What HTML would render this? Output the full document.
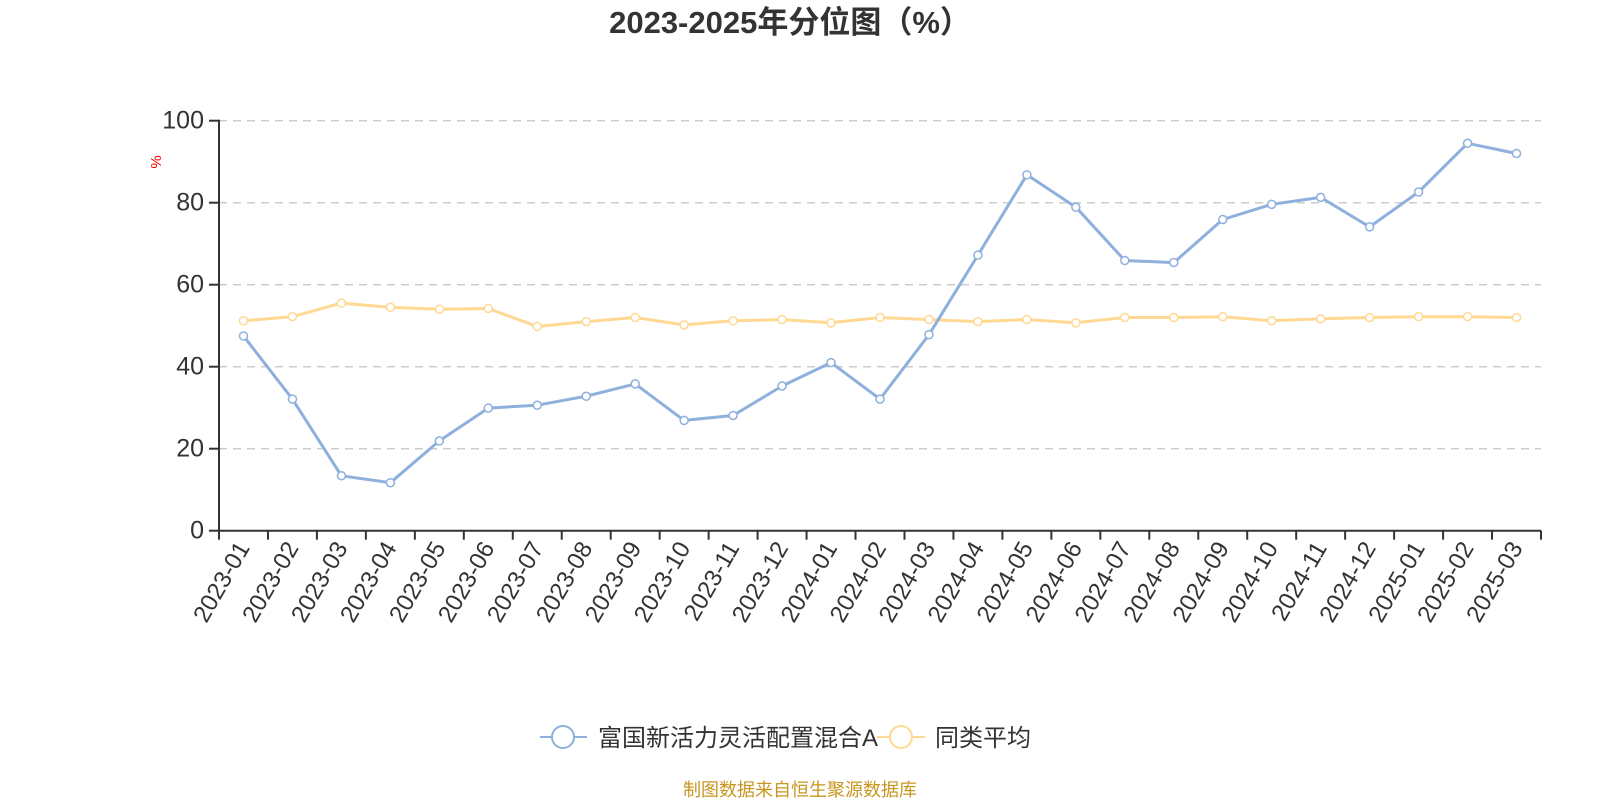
<!DOCTYPE html>
<html><head><meta charset="utf-8"><style>
html,body{margin:0;padding:0;background:#fff;width:1600px;height:800px;overflow:hidden}
svg{display:block;font-family:"Liberation Sans","Noto Sans CJK SC",sans-serif}
</style></head><body>
<svg id="chart" width="1600" height="800" viewBox="0 0 1600 800" xmlns="http://www.w3.org/2000/svg">
<text x="790" y="33" text-anchor="middle" font-size="31" font-weight="bold" fill="#333">2023-2025年分位图（%）</text>
<text transform="translate(161,162) rotate(-90)" text-anchor="middle" font-size="15" fill="#ff0000">%</text>
<g id="grid"></g>
<g id="axes"></g>
<g id="series"></g>
<g>
  <g>
    <line x1="540" y1="737" x2="587" y2="737" stroke="#8eb0dc" stroke-width="2"/>
    <circle cx="563" cy="737" r="11" fill="#fff" stroke="#8eb0dc" stroke-width="2"/>
    <text x="598" y="746" font-size="24" fill="#333">富国新活力灵活配置混合A</text>
  </g>
  <g>
    <line x1="877" y1="737" x2="925" y2="737" stroke="#ffd993" stroke-width="2"/>
    <circle cx="901" cy="737" r="11" fill="#fff" stroke="#ffd993" stroke-width="2"/>
    <text x="935" y="746" font-size="24" fill="#333">同类平均</text>
  </g>
</g>
<text x="800" y="796" text-anchor="middle" font-size="18" fill="#c8961e">制图数据来自恒生聚源数据库</text>
</svg>
<script>
const categories = ["2023-01","2023-02","2023-03","2023-04","2023-05","2023-06","2023-07","2023-08","2023-09","2023-10","2023-11","2023-12","2024-01","2024-02","2024-03","2024-04","2024-05","2024-06","2024-07","2024-08","2024-09","2024-10","2024-11","2024-12","2025-01","2025-02","2025-03"];
const fundValues = [47.5,32.1,13.4,11.7,21.9,29.9,30.6,32.8,35.8,26.9,28.1,35.3,41.0,32.1,47.8,67.2,86.8,78.9,65.9,65.4,75.9,79.6,81.3,74.1,82.6,94.5,92.0];
const avgValues = [51.2,52.2,55.5,54.5,54.0,54.2,49.8,51.0,52.0,50.2,51.2,51.5,50.7,52.0,51.5,51.0,51.5,50.7,52.0,52.0,52.2,51.2,51.7,52.0,52.2,52.2,52.0];
const yTicks = [0,20,40,60,80,100];

const NS = "http://www.w3.org/2000/svg";
const x0 = 219, x1 = 1541, yBase = 530.7, yTop = 120.7;
const band = (x1 - x0) / categories.length;
function xPos(i){ return x0 + band * (i + 0.5); }
function yPos(v){ return yBase - (v / 100) * (yBase - yTop); }
function mk(tag, attrs, parent){
  const el = document.createElementNS(NS, tag);
  for (const k in attrs) el.setAttribute(k, attrs[k]);
  parent.appendChild(el);
  return el;
}
const grid = document.getElementById('grid');
const axes = document.getElementById('axes');
const series = document.getElementById('series');

yTicks.forEach(v => {
  const y = yPos(v);
  if (v > 0) {
    const g = mk('line', {x1: x0, x2: x1, y1: y, y2: y, stroke: '#ccc', 'stroke-width': 1.5, 'stroke-dasharray': '8,6'}, grid);
    
    
  }
  const t = mk('line', {x1: x0 - 10, x2: x0, y1: y, y2: y, stroke: '#333', 'stroke-width': 2}, axes);
  
  
  const lbl = mk('text', {x: x0 - 15, y: y + 8, 'text-anchor': 'end', 'font-size': 25, fill: '#333'}, axes);
  lbl.textContent = v;
  
  
});
const ya = mk('line', {x1: x0, x2: x0, y1: yTop - 1, y2: yBase, stroke: '#333', 'stroke-width': 2}, axes);


const xa = mk('line', {x1: x0 - 1, x2: x1, y1: yBase, y2: yBase, stroke: '#333', 'stroke-width': 2}, axes);


for (let i = 0; i <= categories.length; i++) {
  const x = x0 + band * i;
  const t = mk('line', {x1: x, x2: x, y1: yBase, y2: yBase + 9, stroke: '#333', 'stroke-width': 2}, axes);
  
  
}
categories.forEach((c, i) => {
  const x = xPos(i), y = yBase + 13;
  const lbl = mk('text', {x: x, y: y, 'text-anchor': 'end', 'font-size': 24, fill: '#333', transform: `rotate(-60 ${x} ${y}) translate(0 8)`}, axes);
  lbl.textContent = c;
  
  
});

function drawSeries(vals, color, name){
  const pts = vals.map((v, i) => xPos(i).toFixed(1) + ',' + yPos(v).toFixed(1)).join(' ');
  const line = mk('polyline', {points: pts, fill: 'none', stroke: color, 'stroke-width': 3, 'stroke-linejoin': 'round'}, series);
  
  
  vals.forEach((v, i) => {
    const c = mk('circle', {cx: xPos(i), cy: yPos(v), r: 4, fill: '#fff', stroke: color, 'stroke-width': 1.5}, series);
    
    
  });
}
drawSeries(avgValues, '#ffd993', 'average');
drawSeries(fundValues, '#8eb0dc', 'fund');
</script>
</body></html>
